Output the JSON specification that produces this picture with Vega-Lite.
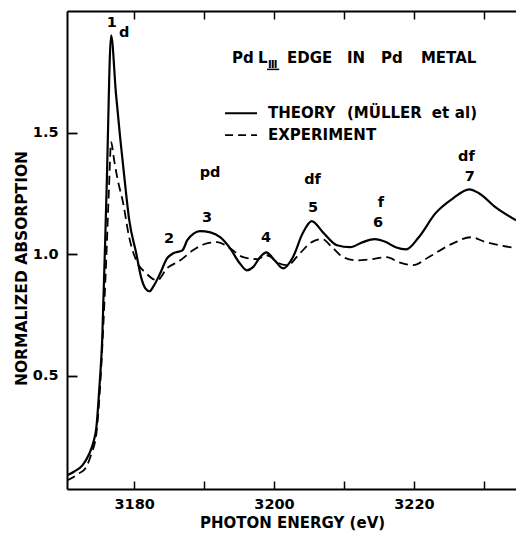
{
  "$schema": "https://vega.github.io/schema/vega-lite/v6.json",
  "width": 449,
  "height": 478,
  "autosize": {"type": "none"},
  "padding": {"left": 67, "top": 11, "right": 0, "bottom": 46},
  "background": "white",
  "config": {
    "view": {"stroke": null},
    "font": "DejaVu Sans",
    "text": {"font": "DejaVu Sans", "fontWeight": "bold", "color": "black"}
  },
  "datasets": {
    "theory": [
      {"E": 3170.4, "V": 0.091}, {"E": 3171.5, "V": 0.108}, {"E": 3172.6, "V": 0.132},
      {"E": 3173.6, "V": 0.181}, {"E": 3174.2, "V": 0.23}, {"E": 3174.6, "V": 0.288},
      {"E": 3175.0, "V": 0.44}, {"E": 3175.43, "V": 0.646}, {"E": 3176.07, "V": 1.276},
      {"E": 3176.71, "V": 1.9}, {"E": 3177.4, "V": 1.66}, {"E": 3178.0, "V": 1.48},
      {"E": 3178.6, "V": 1.317}, {"E": 3179.3, "V": 1.14}, {"E": 3180.3, "V": 1.004},
      {"E": 3181.0, "V": 0.905}, {"E": 3181.6, "V": 0.86}, {"E": 3182.2, "V": 0.848},
      {"E": 3182.8, "V": 0.87}, {"E": 3183.7, "V": 0.92}, {"E": 3184.7, "V": 0.983},
      {"E": 3185.6, "V": 1.004}, {"E": 3186.9, "V": 1.016}, {"E": 3187.6, "V": 1.058},
      {"E": 3188.5, "V": 1.085}, {"E": 3189.4, "V": 1.095}, {"E": 3190.9, "V": 1.09},
      {"E": 3192.3, "V": 1.07}, {"E": 3193.7, "V": 1.025}, {"E": 3195.1, "V": 0.963},
      {"E": 3196.1, "V": 0.934}, {"E": 3197.0, "V": 0.947}, {"E": 3198.0, "V": 0.988},
      {"E": 3198.9, "V": 1.008}, {"E": 3200.1, "V": 0.975}, {"E": 3201.3, "V": 0.942},
      {"E": 3202.7, "V": 0.988}, {"E": 3204.1, "V": 1.086}, {"E": 3205.4, "V": 1.136},
      {"E": 3207.0, "V": 1.09}, {"E": 3209.0, "V": 1.037}, {"E": 3210.9, "V": 1.029},
      {"E": 3212.7, "V": 1.05}, {"E": 3214.4, "V": 1.062}, {"E": 3216.0, "V": 1.05},
      {"E": 3217.4, "V": 1.029}, {"E": 3218.9, "V": 1.02}, {"E": 3220.7, "V": 1.07},
      {"E": 3223.1, "V": 1.169}, {"E": 3225.6, "V": 1.23}, {"E": 3227.9, "V": 1.267},
      {"E": 3229.3, "V": 1.251}, {"E": 3231.7, "V": 1.193}, {"E": 3234.6, "V": 1.14}
    ],
    "experiment": [
      {"E": 3170.4, "V": 0.07}, {"E": 3172.1, "V": 0.099}, {"E": 3173.1, "V": 0.123},
      {"E": 3173.9, "V": 0.181}, {"E": 3174.6, "V": 0.263}, {"E": 3175.1, "V": 0.44},
      {"E": 3175.5, "V": 0.65}, {"E": 3176.0, "V": 0.97}, {"E": 3176.4, "V": 1.27},
      {"E": 3176.71, "V": 1.461}, {"E": 3177.14, "V": 1.387}, {"E": 3177.57, "V": 1.317},
      {"E": 3178.43, "V": 1.21}, {"E": 3179.29, "V": 1.07}, {"E": 3180.29, "V": 0.975},
      {"E": 3181.71, "V": 0.922}, {"E": 3183.29, "V": 0.893}, {"E": 3184.7, "V": 0.942},
      {"E": 3186.6, "V": 0.975}, {"E": 3188.4, "V": 1.016}, {"E": 3190.4, "V": 1.045},
      {"E": 3191.9, "V": 1.05}, {"E": 3193.7, "V": 1.025}, {"E": 3195.6, "V": 0.988},
      {"E": 3197.6, "V": 0.98}, {"E": 3198.9, "V": 0.996}, {"E": 3199.5, "V": 0.99},
      {"E": 3200.4, "V": 0.967}, {"E": 3201.9, "V": 0.955}, {"E": 3203.7, "V": 1.004},
      {"E": 3205.4, "V": 1.05}, {"E": 3206.9, "V": 1.062}, {"E": 3208.3, "V": 1.029},
      {"E": 3209.9, "V": 0.988}, {"E": 3211.9, "V": 0.975}, {"E": 3213.7, "V": 0.979},
      {"E": 3216.1, "V": 0.988}, {"E": 3217.9, "V": 0.967}, {"E": 3219.9, "V": 0.955},
      {"E": 3222.1, "V": 0.988}, {"E": 3225.6, "V": 1.045}, {"E": 3228.1, "V": 1.07},
      {"E": 3230.3, "V": 1.05}, {"E": 3234.6, "V": 1.025}
    ],
    "peaks": [
      {"E": 3176.79, "V": 1.951, "t": "1"},
      {"E": 3178.57, "V": 1.911, "t": "d"},
      {"E": 3190.86, "V": 1.335, "t": "pd"},
      {"E": 3190.43, "V": 1.148, "t": "3"},
      {"E": 3185.0, "V": 1.062, "t": "2"},
      {"E": 3198.86, "V": 1.068, "t": "4"},
      {"E": 3205.57, "V": 1.189, "t": "5"},
      {"E": 3205.5, "V": 1.306, "t": "df"},
      {"E": 3215.29, "V": 1.211, "t": "f"},
      {"E": 3214.86, "V": 1.128, "t": "6"},
      {"E": 3227.5, "V": 1.4, "t": "df"},
      {"E": 3228.0, "V": 1.317, "t": "7"}
    ],
    "words": [
      {"E": 3194.0, "V": 1.807, "t": "Pd"},
      {"E": 3197.71, "V": 1.807, "t": "L"},
      {"E": 3201.86, "V": 1.807, "t": "EDGE"},
      {"E": 3210.43, "V": 1.807, "t": "IN"},
      {"E": 3215.29, "V": 1.807, "t": "Pd"},
      {"E": 3221.0, "V": 1.807, "t": "METAL"},
      {"E": 3199.14, "V": 1.58, "t": "THEORY"},
      {"E": 3210.43, "V": 1.58, "t": "(MÜLLER"},
      {"E": 3222.57, "V": 1.58, "t": "et"},
      {"E": 3225.86, "V": 1.58, "t": "al)"},
      {"E": 3199.14, "V": 1.49, "t": "EXPERIMENT"}
    ],
    "roman": [
      {"E": 3199.14, "V": 1.778, "t": "Ⅲ"}
    ],
    "romanBar": [
      {"E": 3199.0, "E2": 3200.75, "V": 1.76}
    ],
    "keyTheory": [
      {"E": 3193.0, "E2": 3197.57, "V": 1.58}
    ],
    "keyExperiment": [
      {"E": 3193.0, "E2": 3197.57, "V": 1.49}
    ]
  },
  "layer": [
    {
      "data": {"name": "theory"},
      "mark": {"type": "line", "color": "black", "strokeWidth": 2.2, "interpolate": "monotone", "clip": true},
      "encoding": {
        "x": {
          "field": "E", "type": "quantitative",
          "scale": {"domain": [3170.4, 3234.6], "nice": false, "zero": false},
          "axis": {
            "orient": "bottom",
            "values": [3180, 3190, 3200, 3210, 3220, 3230],
            "format": "d",
            "labelExpr": "datum.value % 20 == 0 ? datum.label : ''",
            "grid": false,
            "domainColor": "black", "domainWidth": 2,
            "tickColor": "black", "tickWidth": 1.5, "tickSize": -8,
            "labelPadding": 16,
            "labelFont": "DejaVu Sans", "labelFontWeight": "bold", "labelFontSize": 14.5, "labelColor": "black",
            "labelFlush": false, "labelOverlap": false,
            "title": "PHOTON ENERGY (eV)",
            "titleFont": "DejaVu Sans", "titleFontWeight": "bold", "titleFontSize": 15, "titleColor": "black",
            "titleX": 225, "titleY": 33, "titleBaseline": "middle", "titleAlign": "center"
          }
        },
        "y": {
          "field": "V", "type": "quantitative",
          "scale": {"domain": [0.035, 2.0], "nice": false, "zero": false},
          "axis": {
            "orient": "left",
            "values": [0.5, 1.0, 1.5],
            "format": ".1f",
            "grid": false,
            "domainColor": "black", "domainWidth": 2,
            "tickColor": "black", "tickWidth": 1.8, "tickSize": -10,
            "labelPadding": 19,
            "labelFont": "DejaVu Sans", "labelFontWeight": "bold", "labelFontSize": 14.5, "labelColor": "black",
            "labelFlush": false, "labelOverlap": false,
            "title": "NORMALIZED ABSORPTION",
            "titleFont": "DejaVu Sans", "titleFontWeight": "bold", "titleFontSize": 15.5, "titleColor": "black",
            "titleX": -46, "titleY": 257, "titleAngle": -90, "titleBaseline": "middle", "titleAlign": "center"
          }
        }
      }
    },
    {
      "data": {"name": "experiment"},
      "mark": {"type": "line", "color": "black", "strokeWidth": 1.8, "strokeDash": [9, 5], "interpolate": "monotone", "clip": true},
      "encoding": {
        "x": {
          "field": "E", "type": "quantitative",
          "scale": {"domain": [3170.4, 3234.6], "nice": false, "zero": false},
          "axis": {
            "orient": "top",
            "values": [3180, 3190, 3200, 3210, 3220, 3230],
            "labels": false,
            "grid": false,
            "domainColor": "black", "domainWidth": 2,
            "tickColor": "black", "tickWidth": 1.5, "tickSize": -8,
            "title": null
          }
        },
        "y": {"field": "V", "type": "quantitative", "scale": {"domain": [0.035, 2.0], "nice": false, "zero": false}}
      }
    },
    {
      "data": {"name": "keyTheory"},
      "mark": {"type": "rule", "color": "black", "strokeWidth": 2},
      "encoding": {
        "x": {"field": "E", "type": "quantitative", "axis": null},
        "x2": {"field": "E2"},
        "y": {"field": "V", "type": "quantitative"}
      }
    },
    {
      "data": {"name": "keyExperiment"},
      "mark": {"type": "rule", "color": "black", "strokeWidth": 1.8, "strokeDash": [8, 5]},
      "encoding": {
        "x": {"field": "E", "type": "quantitative", "axis": null},
        "x2": {"field": "E2"},
        "y": {"field": "V", "type": "quantitative"}
      }
    },
    {
      "data": {"name": "romanBar"},
      "mark": {"type": "rule", "color": "black", "strokeWidth": 1.5},
      "encoding": {
        "x": {"field": "E", "type": "quantitative", "axis": null},
        "x2": {"field": "E2"},
        "y": {"field": "V", "type": "quantitative"}
      }
    },
    {
      "data": {"name": "peaks"},
      "mark": {"type": "text", "align": "center", "baseline": "middle", "fontSize": 14.5, "fontWeight": "bold", "font": "DejaVu Sans", "color": "black"},
      "encoding": {
        "x": {"field": "E", "type": "quantitative", "axis": null},
        "y": {"field": "V", "type": "quantitative"},
        "text": {"field": "t"}
      }
    },
    {
      "data": {"name": "words"},
      "mark": {"type": "text", "align": "left", "baseline": "middle", "fontSize": 15, "fontWeight": "bold", "font": "DejaVu Sans", "color": "black"},
      "encoding": {
        "x": {"field": "E", "type": "quantitative", "axis": null},
        "y": {"field": "V", "type": "quantitative"},
        "text": {"field": "t"}
      }
    },
    {
      "data": {"name": "roman"},
      "mark": {"type": "text", "align": "left", "baseline": "middle", "fontSize": 10, "fontWeight": "bold", "font": "DejaVu Sans", "color": "black"},
      "encoding": {
        "x": {"field": "E", "type": "quantitative", "axis": null},
        "y": {"field": "V", "type": "quantitative"},
        "text": {"field": "t"}
      }
    }
  ],
  "resolve": {"axis": {"x": "independent"}}
}
